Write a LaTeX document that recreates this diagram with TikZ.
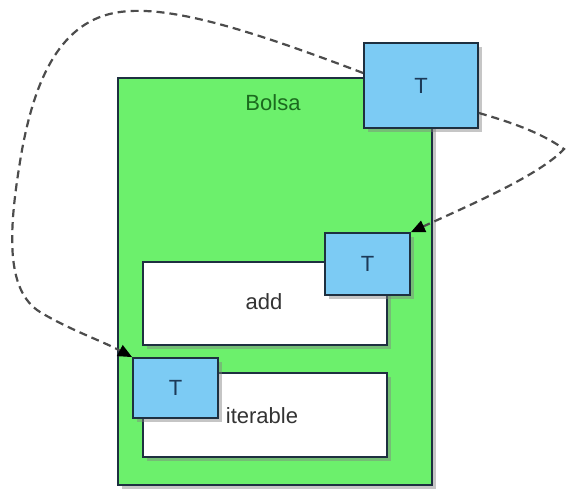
\documentclass[tikz,border=0pt]{standalone}
\usepackage{fontspec}
\setmainfont{Liberation Sans}
\usetikzlibrary{shadows,arrows.meta}
\definecolor{bolsagreen}{HTML}{6CF06C}
\definecolor{tblue}{HTML}{7CCBF4}
\definecolor{edgec}{HTML}{1E3040}
\definecolor{tlabel}{HTML}{1C3A58}
\definecolor{glabel}{HTML}{1B6A1E}
\definecolor{wlabel}{HTML}{333333}
\begin{document}
\begin{tikzpicture}[x=1pt,y=-1pt,
  box/.style={draw=edgec,line width=1.8pt,inner sep=0pt,
    drop shadow={opacity=0.45,shadow xshift=3.5pt,shadow yshift=-3.5pt}},
  greenbox/.style={box,fill=bolsagreen},
  whitebox/.style={box,fill=white},
  lbl/.style={font=\fontsize{22}{26}\selectfont},
  tbox/.style={box,fill=tblue,text=tlabel,lbl},
  link/.style={draw=black!70,line width=2.2pt,dash pattern=on 8pt off 5pt,
    -{Triangle[length=14pt,width=12pt,color=black]}}]
\useasboundingbox (0,0) rectangle (566,493);
\node[greenbox,minimum width=314pt,minimum height=407pt] (bolsa) at (275,281.5) {};
\node[lbl,text=glabel] (bolsalabel) at (273,103) {Bolsa};
\node[whitebox,minimum width=244pt,minimum height=83pt] (add) at (265,303.5) {};
\node[lbl,text=wlabel] (addlabel) at (264,302) {add};
\node[tbox,minimum width=85pt,minimum height=62pt] (tmid) at (367.5,264) {T};
\node[whitebox,minimum width=244pt,minimum height=84pt] (iter) at (265,415) {};
\node[lbl,text=wlabel] (iterlabel) at (262,416) {iterable};
\node[tbox,minimum width=85pt,minimum height=60pt] (tlow) at (175.5,388) {T};
\node[tbox,minimum width=114pt,minimum height=85pt] (ttop) at (421,85.5) {T};
\coordinate (tr) at (564,149);
\draw[link] (ttop.west |- 0,73) .. controls (250,30) and (170,5) .. (120,12)
  .. controls (60,20) and (35,80) .. (22,150)
  .. controls (8,230) and (5,290) .. (40,312)
  .. controls (70,330) and (100,340) .. (tlow.north west);
\draw[link] (ttop.east |- 0,113) .. controls (510,122) and (540,132) .. (tr)
  .. controls (540,175) and (470,205) .. (tmid.north east);
\end{tikzpicture}
\end{document}
